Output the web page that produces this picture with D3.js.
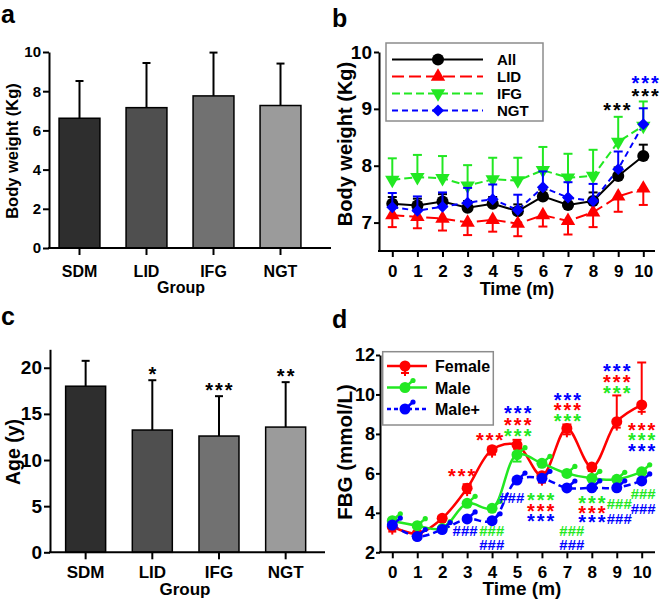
<!DOCTYPE html>
<html>
<head>
<meta charset="utf-8">
<script src="https://cdn.jsdelivr.net/npm/d3@7"></script>
<style>
body { margin: 0; background: #fff; }
svg { display: block; font-family: "Liberation Sans", Arial, sans-serif; font-weight: bold; }
</style>
</head>
<body>
<svg id="fig" width="661" height="605"></svg>
<script>
// ---- data ----
var groups = ["SDM", "LID", "IFG", "NGT"];
var groupFill = ["#2e2e2e", "#4f4f4f", "#717171", "#9b9b9b"];

var weight = [6.62, 7.16, 7.76, 7.27];
var weightSd = [1.9, 2.28, 2.21, 2.14];

var age = [18.0, 13.25, 12.6, 13.57];
var ageSd = [2.75, 5.4, 4.32, 4.87];
var ageStars = ["", "*", "***", "**"];

var months = [0, 1, 2, 3, 4, 5, 6, 7, 8, 9, 10];

var bwAll = [7.33, 7.3, 7.37, 7.26, 7.33, 7.2, 7.46, 7.31, 7.38, 7.82, 8.17];
var bwAllErr = [0.12, 0.12, 0.13, 0.12, 0.12, 0.12, 0.12, 0.12, 0.15, 0.15, 0.2];
var bwLid = [7.13, 7.1, 7.07, 7.0, 7.05, 6.98, 7.13, 7.03, 7.18, 7.46, 7.6];
var bwLidErr = [0.21, 0.2, 0.21, 0.22, 0.21, 0.22, 0.2, 0.24, 0.26, 0.27, 0.29];
var bwIfg = [7.75, 7.8, 7.78, 7.65, 7.76, 7.74, 7.92, 7.79, 7.82, 8.42, 8.7];
var bwIfgErr = [0.38, 0.39, 0.39, 0.36, 0.38, 0.4, 0.41, 0.42, 0.46, 0.44, 0.43];
var bwNgt = [7.27, 7.21, 7.28, 7.35, 7.41, 7.22, 7.62, 7.44, 7.38, 7.94, 8.73];
var bwNgtErr = [0.25, 0.25, 0.25, 0.26, 0.26, 0.27, 0.28, 0.27, 0.3, 0.31, 0.28];
// significance marks in panel b: month, value, text, colour
var bwStars = [[8.95, 9.03, "***", "black"], [10.07, 9.5, "***", "blue"], [10.07, 9.28, "***", "black"]];

var fbgFemale = [3.3, 2.95, 3.72, 5.25, 7.2, 7.45, 5.88, 8.28, 6.32, 8.62, 9.47];
var fbgFemaleUp = [0.1, 0.1, 0.1, 0.2, 0.15, 0.25, 0.1, 0.2, 0.1, 1.33, 2.15];
var fbgFemaleLow = [0.25, 0.25, 0.15, 0.25, 0.25, 0.2, 0.35, 0.3, 0.2, 0.3, 0.35];
var fbgMale = [3.6, 3.35, 3.2, 4.48, 4.23, 6.95, 6.51, 6.0, 5.75, 5.7, 6.08];
var fbgMaleLow = [0, 0, 0, 0, 0, 0.35, 0, 0, 0, 0, 0];
var fbgMalePlus = [3.38, 2.8, 3.15, 3.69, 3.6, 5.66, 5.75, 5.26, 5.27, 5.27, 5.62];

var RED = "#ff0000", GREEN = "#22e822", BLUE = "#0000ff";

// significance marks in panel d: month, value, text, colour (same month = one stack)
var fbgMarks = [
  [2.78, 6.0, "***", RED],
  [3.9, 7.86, "***", RED],
  [5.03, 9.21, "***", BLUE], [5.03, 8.62, "***", RED], [5.03, 8.06, "***", GREEN],
  [2.92, 3.08, "###", BLUE],
  [3.99, 3.08, "###", GREEN], [3.99, 2.37, "###", BLUE],
  [4.79, 4.79, "###", BLUE],
  [5.95, 4.82, "***", GREEN], [5.95, 4.26, "***", RED], [5.95, 3.72, "***", BLUE],
  [7.02, 9.89, "***", BLUE], [7.02, 9.35, "***", RED], [7.02, 8.8, "***", GREEN],
  [7.2, 3.08, "###", GREEN], [7.2, 2.37, "###", BLUE],
  [8.0, 4.65, "***", GREEN], [8.0, 4.14, "***", RED], [8.0, 3.69, "***", BLUE],
  [9.1, 4.45, "###", GREEN], [9.1, 3.72, "###", BLUE],
  [9.0, 11.33, "***", BLUE], [9.0, 10.78, "***", RED], [9.0, 10.23, "***", GREEN],
  [10.0, 8.37, "***", RED], [10.0, 7.83, "***", GREEN], [10.0, 7.3, "***", BLUE],
  [10.06, 4.99, "###", GREEN], [10.06, 4.23, "###", BLUE]
];

var svg = d3.select("#fig");

// ---- helpers ----
function styleAxis(g, fs) {
  g.attr("font-family", null).attr("font-size", fs);
  g.selectAll("path, line").attr("stroke", "#000").attr("stroke-width", 2);
  g.selectAll("text").attr("fill", "#000");
}

function label(txt, x, y, fs, rot) {
  var t = svg.append("text").attr("font-size", fs).attr("text-anchor", "middle").text(txt);
  if (rot) t.attr("transform", "translate(" + x + "," + y + ") rotate(-90)");
  else t.attr("x", x).attr("y", y);
  return t;
}

function panelLetter(txt, x, y) {
  svg.append("text").attr("x", x).attr("y", y).attr("font-size", 25).text(txt);
}

// one <text> per stack of marks; stars and hashes centred on their point
function markStack(g, marks, x, y) {
  var t = g.append("text").attr("text-anchor", "middle");
  marks.forEach(function (m) {
    var star = m[2].charAt(0) === "*";
    t.append("tspan")
      .attr("x", x(m[0]) + (star ? 1 : 0))
      .attr("y", y(m[1]) + (star ? 10 : 5.5))
      .attr("font-size", star ? 20 : 15)
      .attr("letter-spacing", star ? 2 : 0)
      .attr("fill", m[3]).text(m[2]);
  });
}

function drawMarks(g, marks, x, y) {
  d3.groups(marks, function (m) { return m[0]; }).forEach(function (s) {
    markStack(g, s[1], x, y);
  });
}

function errBar(g, x, y0, y1, w, col, sw) {
  g.append("line").attr("x1", x).attr("x2", x).attr("y1", y0).attr("y2", y1)
    .attr("stroke", col).attr("stroke-width", sw);
  g.append("line").attr("x1", x - w / 2).attr("x2", x + w / 2).attr("y1", y1).attr("y2", y1)
    .attr("stroke", col).attr("stroke-width", sw);
}

// ---- bar panels (a, c) ----
function barPanel(o) {
  var g = svg.append("g");
  var x = d3.scaleBand().domain(groups).range(o.xr).paddingInner(o.pad).paddingOuter(o.pad / 2);
  var y = d3.scaleLinear().domain(o.yd).range(o.yr);

  groups.forEach(function (k, i) {
    var cx = x(k) + x.bandwidth() / 2;
    errBar(g, cx, y(o.vals[i]), y(o.vals[i] + o.sd[i]), 8, "#000", 2);
  });
  g.selectAll("rect").data(o.vals).join("rect")
    .attr("x", function (d, i) { return x(groups[i]); })
    .attr("y", function (d) { return y(d); })
    .attr("width", x.bandwidth())
    .attr("height", function (d) { return y(0) - y(d); })
    .attr("fill", function (d, i) { return groupFill[i]; })
    .attr("stroke", "#000").attr("stroke-width", 1.5);

  if (o.stars) {
    groups.forEach(function (k, i) {
      if (!o.stars[i]) return;
      g.append("text").attr("x", x(k) + x.bandwidth() / 2 + 1)
        .attr("y", y(o.vals[i] + o.sd[i]) + 1)
        .attr("text-anchor", "middle").attr("font-size", 20).attr("letter-spacing", 2)
        .text(o.stars[i]);
    });
  }

  var ya = g.append("g").attr("transform", "translate(" + o.ax + ",0)")
    .call(d3.axisLeft(y).tickValues(o.ticks).tickSize(6).tickSizeOuter(0).tickPadding(2)
      .tickFormat(d3.format("d")));
  styleAxis(ya, o.tfs);
  var xa = g.append("g").attr("transform", "translate(0," + y(0) + ")")
    .call(d3.axisBottom(x).tickSize(7).tickPadding(o.xpad));
  xa.select(".domain").remove();
  styleAxis(xa, o.cfs);
  g.append("line").attr("x1", o.ax - 1).attr("x2", o.xend).attr("y1", y(0)).attr("y2", y(0))
    .attr("stroke", "#000").attr("stroke-width", 2);
}

barPanel({xr: [46, 314], pad: 0.39, yd: [0, 10], yr: [248, 52], ax: 49, xend: 331,
  vals: weight, sd: weightSd, ticks: [0, 2, 4, 6, 8, 10], tfs: 15, cfs: 16, xpad: 11});
label("Group", 181, 293, 16);
label("Body weight (Kg)", 18, 151, 16.5, true);
panelLetter("a", 1, 23);

barPanel({xr: [52.3, 319], pad: 0.4, yd: [0, 22], yr: [552.3, 349.3], ax: 50, xend: 325,
  vals: age, sd: ageSd, stars: ageStars, ticks: [0, 5, 10, 15, 20], tfs: 19, cfs: 17, xpad: 6.5});
label("Group", 185, 595, 17);
label("Age (y)", 20, 452, 19.5, true);
panelLetter("c", 1, 325);

// ---- panel b: body weight over time ----
(function () {
  var g = svg.append("g");
  var x = d3.scaleLinear().domain([0, 10]).range([392.3, 643.3]);
  var y = d3.scaleLinear().domain([6.5, 10]).range([251, 52]);
  var line = d3.line().x(function (d, i) { return x(months[i]); }).y(function (d) { return y(d); });

  var series = [
    {v: bwAll, e: bwAllErr, dir: 1, col: "#000", dash: null, sym: d3.symbolCircle, size: 115, rot: 0},
    {v: bwLid, e: bwLidErr, dir: -1, col: RED, dash: "12,5", sym: d3.symbolTriangle, size: 90, rot: 0},
    {v: bwIfg, e: bwIfgErr, dir: 1, col: GREEN, dash: "8,4", sym: d3.symbolTriangle, size: 90, rot: 180},
    {v: bwNgt, e: bwNgtErr, dir: 1, col: BLUE, dash: "6,4", sym: d3.symbolSquare, size: 72, rot: 45}
  ];

  series.forEach(function (s) {
    g.append("path").attr("d", line(s.v)).attr("fill", "none")
      .attr("stroke", s.col).attr("stroke-width", 2).attr("stroke-dasharray", s.dash);
  });
  series.forEach(function (s) {
    s.v.forEach(function (d, i) {
      errBar(g, x(months[i]), y(d), y(d + s.dir * s.e[i]), 9, s.col, 2);
    });
    g.selectAll(null).data(s.v).join("path")
      .attr("d", d3.symbol().type(s.sym).size(s.size))
      .attr("transform", function (d, i) {
        return "translate(" + x(months[i]) + "," + y(d) + ") rotate(" + s.rot + ")";
      })
      .attr("fill", s.col);
  });

  drawMarks(g, bwStars, x, y);

  var ya = g.append("g").attr("transform", "translate(379,0)")
    .call(d3.axisLeft(y).tickValues([7, 8, 9, 10]).tickSize(5).tickSizeOuter(0).tickPadding(2)
      .tickFormat(d3.format("d")));
  styleAxis(ya, 19);
  var xa = g.append("g").attr("transform", "translate(0,251)")
    .call(d3.axisBottom(x).tickValues(months).tickSize(6).tickPadding(8));
  xa.select(".domain").remove();
  styleAxis(xa, 17);
  g.append("line").attr("x1", 378).attr("x2", 655).attr("y1", 251).attr("y2", 251)
    .attr("stroke", "#000").attr("stroke-width", 2);

  // legend
  var lg = g.append("g");
  lg.append("rect").attr("x", 386).attr("y", 43).attr("width", 157).attr("height", 78)
    .attr("fill", "#fff").attr("stroke", "#8c8c8c").attr("stroke-width", 1.5);
  var names = ["All", "LID", "IFG", "NGT"];
  series.forEach(function (s, i) {
    var ly = 59.5 + i * 17;
    lg.append("line").attr("x1", 392).attr("x2", 483).attr("y1", ly).attr("y2", ly)
      .attr("stroke", s.col).attr("stroke-width", 2).attr("stroke-dasharray", s.dash);
    lg.append("path").attr("d", d3.symbol().type(s.sym).size(s.size))
      .attr("transform", "translate(438," + ly + ") rotate(" + s.rot + ")").attr("fill", s.col);
    lg.append("text").attr("x", 497).attr("y", ly + 5.5).attr("font-size", 15).text(names[i]);
  });
})();
label("Time (m)", 517, 295, 18);
label("Body weight (Kg)", 352, 144, 20, true);
panelLetter("b", 332, 27);

// ---- panel d: FBG over time ----
(function () {
  var g = svg.append("g");
  var x = d3.scaleLinear().domain([0, 10]).range([392.3, 641.7]);
  var y = d3.scaleLinear().domain([2, 12]).range([552.3, 355]);
  var line = d3.line().curve(d3.curveCatmullRom)
    .x(function (d, i) { return x(months[i]); }).y(function (d) { return y(d); });

  var series = [
    {v: fbgFemale, col: RED, dash: null, tail: false},
    {v: fbgMale, col: GREEN, dash: null, tail: true},
    {v: fbgMalePlus, col: BLUE, dash: "7,4", tail: true}
  ];

  series.forEach(function (s) {
    g.append("path").attr("d", line(s.v)).attr("fill", "none")
      .attr("stroke", s.col).attr("stroke-width", 2.5).attr("stroke-dasharray", s.dash);
  });

  function marker(gg, cx, cy, s) {
    gg.append("circle").attr("cx", cx).attr("cy", cy).attr("r", 5.5).attr("fill", s.col);
    if (s.tail) {
      gg.append("line").attr("x1", cx).attr("y1", cy).attr("x2", cx + 8).attr("y2", cy - 7)
        .attr("stroke", s.col).attr("stroke-width", 2.5);
      gg.append("circle").attr("cx", cx + 8).attr("cy", cy - 7).attr("r", 2.6).attr("fill", s.col);
    }
  }

  // female: upper caps and "+" below
  fbgFemale.forEach(function (d, i) {
    var cx = x(months[i]);
    errBar(g, cx, y(d), y(d + fbgFemaleUp[i]), 9, RED, 2);
    var yl = y(d - fbgFemaleLow[i]);
    g.append("line").attr("x1", cx).attr("x2", cx).attr("y1", y(d)).attr("y2", yl + 3)
      .attr("stroke", RED).attr("stroke-width", 2);
    g.append("line").attr("x1", cx - 4).attr("x2", cx + 4).attr("y1", yl).attr("y2", yl)
      .attr("stroke", RED).attr("stroke-width", 2);
  });
  fbgMale.forEach(function (d, i) {
    if (fbgMaleLow[i] > 0) errBar(g, x(months[i]), y(d), y(d - fbgMaleLow[i]), 9, GREEN, 2);
  });

  series.forEach(function (s) {
    s.v.forEach(function (d, i) { marker(g, x(months[i]), y(d), s); });
  });

  drawMarks(g, fbgMarks, x, y);

  var ya = g.append("g").attr("transform", "translate(380,0)")
    .call(d3.axisLeft(y).tickValues([2, 4, 6, 8, 10, 12]).tickSize(4).tickSizeOuter(0).tickPadding(1));
  styleAxis(ya, 18);
  var xa = g.append("g").attr("transform", "translate(0,552.3)")
    .call(d3.axisBottom(x).tickValues(months).tickSize(6).tickPadding(8));
  xa.select(".domain").remove();
  styleAxis(xa, 17);
  g.append("line").attr("x1", 379).attr("x2", 655).attr("y1", 552.3).attr("y2", 552.3)
    .attr("stroke", "#000").attr("stroke-width", 2);

  // legend
  var lg = g.append("g");
  lg.append("rect").attr("x", 382.7).attr("y", 351.7).attr("width", 110.6).attr("height", 73.3)
    .attr("fill", "#fff").attr("stroke", "#8c8c8c").attr("stroke-width", 1.5);
  var names = ["Female", "Male", "Male+"];
  series.forEach(function (s, i) {
    var ly = 366 + i * 21.5;
    lg.append("line").attr("x1", 387).attr("x2", 427).attr("y1", ly).attr("y2", ly)
      .attr("stroke", s.col).attr("stroke-width", 2.5).attr("stroke-dasharray", s.dash ? "4,3" : null);
    if (i === 0) {
      lg.append("line").attr("x1", 405).attr("x2", 405).attr("y1", ly).attr("y2", ly + 10)
        .attr("stroke", RED).attr("stroke-width", 2);
      lg.append("line").attr("x1", 401).attr("x2", 409).attr("y1", ly + 7).attr("y2", ly + 7)
        .attr("stroke", RED).attr("stroke-width", 2);
    }
    marker(lg, 405, ly, s);
    lg.append("text").attr("x", 435).attr("y", ly + 6).attr("font-size", 16).text(names[i]);
  });
})();
label("Time (m)", 522, 595, 19);
label("FBG (mmol/L)", 352, 452, 20.5, true);
panelLetter("d", 332, 328);
</script>
</body>
</html>
